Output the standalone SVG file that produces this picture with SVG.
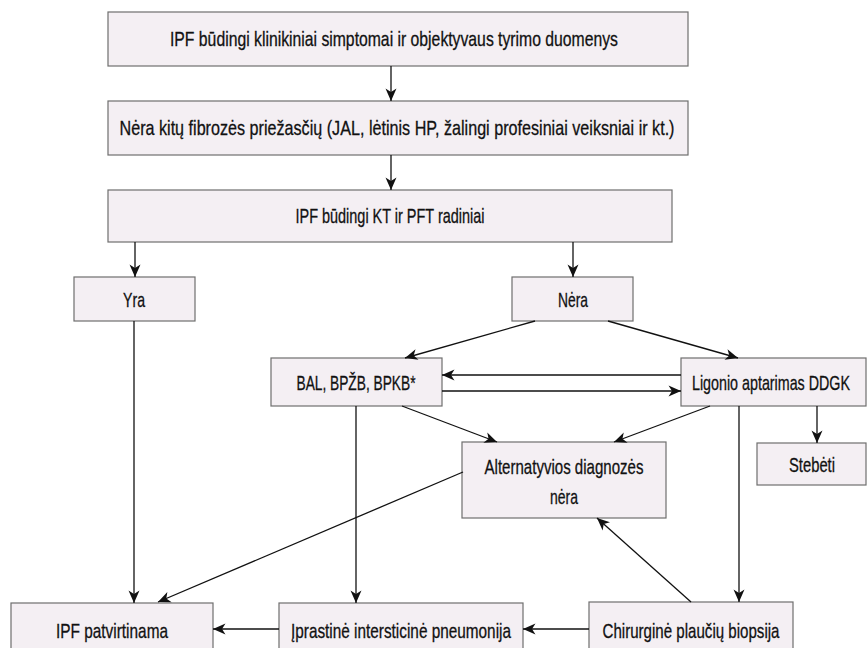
<svg xmlns="http://www.w3.org/2000/svg" width="867" height="648" viewBox="0 0 867 648">
<style>
.box{fill:#f4eff3;stroke:#6e6e6e;stroke-width:1.2}
.t{font-family:"Liberation Sans",Arial,sans-serif;font-size:21px;fill:#111;stroke:#111;stroke-width:0.3;text-anchor:middle}
.c line{stroke:#111;stroke-width:1.3;fill:none}
.a{marker-end:url(#ah)}
</style>
<defs>
<marker id="ah" viewBox="-13 -6 14 12" refX="0" refY="0" markerWidth="14" markerHeight="12" markerUnits="userSpaceOnUse" orient="auto">
<path d="M0,0 L-12.5,-5.5 L-9,0 L-12.5,5.5 Z" fill="#111"/>
</marker>
</defs>
<rect width="867" height="648" fill="#fff"/>
<g id="n1"><rect class="box" x="108" y="12" width="580" height="54"/><text class="t" x="394" y="46" textLength="448" lengthAdjust="spacingAndGlyphs">IPF būdingi klinikiniai simptomai ir objektyvaus tyrimo duomenys</text></g>
<g id="n2"><rect class="box" x="108" y="101" width="580" height="54"/><text class="t" x="397" y="135" textLength="555" lengthAdjust="spacingAndGlyphs">Nėra kitų fibrozės priežasčių (JAL, lėtinis HP, žalingi profesiniai veiksniai ir kt.)</text></g>
<g id="n3"><rect class="box" x="108" y="190" width="564" height="52"/><text class="t" x="390" y="223" textLength="189" lengthAdjust="spacingAndGlyphs">IPF būdingi KT ir PFT radiniai</text></g>
<g id="n4"><rect class="box" x="74" y="277" width="121" height="44"/><text class="t" x="134" y="307" textLength="22" lengthAdjust="spacingAndGlyphs">Yra</text></g>
<g id="n5"><rect class="box" x="512" y="277" width="121" height="44"/><text class="t" x="573" y="307" textLength="30" lengthAdjust="spacingAndGlyphs">Nėra</text></g>
<g id="n6"><rect class="box" x="271" y="358" width="171" height="48"/><text class="t" x="356" y="390" textLength="119" lengthAdjust="spacingAndGlyphs">BAL, BPŽB, BPKB*</text></g>
<g id="n7"><rect class="box" x="681" y="358" width="185" height="48"/><text class="t" x="771" y="390" textLength="158" lengthAdjust="spacingAndGlyphs">Ligonio aptarimas DDGK</text></g>
<g id="n8"><rect class="box" x="462" y="442" width="204" height="76"/><text class="t" x="564" y="474" textLength="159" lengthAdjust="spacingAndGlyphs">Alternatyvios diagnozės</text><text class="t" x="564" y="504" textLength="28" lengthAdjust="spacingAndGlyphs">nėra</text></g>
<g id="n9"><rect class="box" x="757" y="443" width="109" height="42"/><text class="t" x="812" y="472" textLength="46" lengthAdjust="spacingAndGlyphs">Stebėti</text></g>
<g id="n10"><rect class="box" x="11" y="603" width="202" height="60"/><text class="t" x="112" y="638" textLength="112" lengthAdjust="spacingAndGlyphs">IPF patvirtinama</text></g>
<g id="n11"><rect class="box" x="279" y="603" width="244" height="60"/><text class="t" x="401" y="638" textLength="220" lengthAdjust="spacingAndGlyphs">Įprastinė intersticinė pneumonija</text></g>
<g id="n12"><rect class="box" x="589" y="602" width="204" height="60"/><text class="t" x="691" y="638" textLength="177" lengthAdjust="spacingAndGlyphs">Chirurginė plaučių biopsija</text></g>
<g id="connectors" class="c">
<line class="a" x1="391" y1="66" x2="391" y2="101"/>
<line class="a" x1="391" y1="155" x2="391" y2="190"/>
<line class="a" x1="135" y1="242" x2="135" y2="277"/>
<line class="a" x1="573" y1="242" x2="573" y2="277"/>
<line class="a" x1="134" y1="321" x2="134" y2="603"/>
<line class="a" x1="535" y1="321" x2="405" y2="358"/>
<line class="a" x1="608" y1="321" x2="738" y2="358"/>
<line class="a" x1="681" y1="375" x2="442" y2="375"/>
<line class="a" x1="442" y1="391" x2="681" y2="391"/>
<line class="a" x1="402" y1="406" x2="497" y2="442"/>
<line class="a" x1="710" y1="406" x2="614" y2="442"/>
<line class="a" x1="817" y1="406" x2="817" y2="443"/>
<line class="a" x1="356" y1="406" x2="356" y2="603"/>
<line class="a" x1="739" y1="406" x2="739" y2="602"/>
<line class="a" x1="463" y1="472" x2="158" y2="602"/>
<line class="a" x1="691" y1="602" x2="597" y2="518"/>
<line class="a" x1="589" y1="629" x2="523" y2="629"/>
<line class="a" x1="279" y1="629" x2="213" y2="629"/>
</g>
</svg>
